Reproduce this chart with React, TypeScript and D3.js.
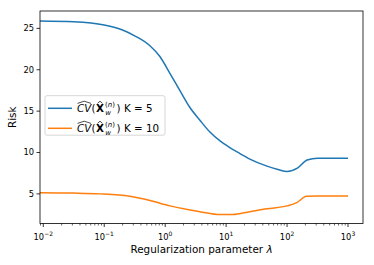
import React from "react";
import * as d3 from "d3";

const lambdaK5 = [-2.054, -1.5, -1.0, -0.7, -0.5, -0.25, -0.087, 0.075, 0.24, 0.4, 0.57, 0.73, 0.9, 1.06, 1.22, 1.39, 1.67, 1.85, 2.0, 2.17, 2.33, 2.5, 3.0];
const riskK5 = [25.9, 25.8, 25.4, 24.8, 24.1, 22.9, 21.6, 19.6, 17.5, 15.5, 13.9, 12.5, 11.4, 10.6, 9.9, 9.2, 8.35, 7.95, 7.7, 8.1, 9.1, 9.3, 9.3];

const lambdaK10 = [-2.054, -1.5, -1.07, -0.58, -0.25, 0.08, 0.41, 0.57, 0.9, 1.11, 1.39, 1.67, 2.0, 2.16, 2.32, 2.5, 3.0];
const riskK10 = [5.15, 5.1, 5.0, 4.7, 4.2, 3.55, 3.05, 2.85, 2.5, 2.5, 2.85, 3.2, 3.55, 3.95, 4.7, 4.75, 4.75];

const yTicks = [5, 10, 15, 20, 25];
const xTickExps = [-2, -1, 0, 1, 2, 3];
const legendKs = [5, 10];
const colors = ["#1f77b4", "#ff7f0e"];

const W = 374, H = 265;
const margin = { left: 40, right: 11, top: 11, bottom: 41.5 };
const font = "DejaVu Sans, sans-serif";

function LegendLabel({ x, y, k }: { x: number; y: number; k: number }) {
  const fs = 10.3;
  return (
    <g fontFamily={font} fill="#000">
      <text x={x} y={y} fontSize={fs} fontStyle="italic">CV</text>
      <path d={`M${x + 0.5},${y - 8.6} L${x + 7.2},${y - 10.8} L${x + 14},${y - 8.6}`} fill="none" stroke="#000" strokeWidth={0.7} />
      <text x={x + 14.5} y={y} fontSize={fs}>(</text>
      <text x={x + 19} y={y} fontSize={fs} fontWeight="bold">X</text>
      <path d={`M${x + 20.5},${y - 8.6} L${x + 23},${y - 10.8} L${x + 25.5},${y - 8.6}`} fill="none" stroke="#000" strokeWidth={0.7} />
      <text x={x + 28} y={y - 5} fontSize={7}>(<tspan fontStyle="italic">n</tspan>)</text>
      <text x={x + 28.3} y={y + 2.6} fontSize={7} fontStyle="italic">w</text>
      <text x={x + 39.5} y={y} fontSize={fs}>)</text>
      <text x={x + 47} y={y} fontSize={fs}>{`K = ${k}`}</text>
    </g>
  );
}

export default function App() {
  const x = d3.scaleLog().domain([Math.pow(10, -2.054), Math.pow(10, 3.246)]).range([margin.left, W - margin.right]);
  const y = d3.scaleLinear().domain([1.42, 27.1]).range([H - margin.bottom, margin.top]);

  const line = d3.line<[number, number]>()
    .x(d => x(Math.pow(10, d[0])))
    .y(d => y(d[1]))
    .curve(d3.curveMonotoneX);

  const series = [
    lambdaK5.map((l, i) => [l, riskK5[i]] as [number, number]),
    lambdaK10.map((l, i) => [l, riskK10[i]] as [number, number]),
  ];

  const minor: number[] = [];
  for (let e = -3; e <= 3; e++) {
    for (let m = 2; m <= 9; m++) {
      const v = m * Math.pow(10, e);
      const [a, b] = x.domain();
      if (v >= a && v <= b) minor.push(v);
    }
  }

  const x0 = margin.left, x1 = W - margin.right;
  const y0 = margin.top, y1 = H - margin.bottom;

  return (
    <svg width={W} height={H} style={{ position: "absolute", left: 0, top: 0, background: "#fff" }}>
      <rect x={0} y={0} width={W} height={H} fill="#fff" />
      <g>
        {series.map((s, i) => (
          <path key={i} d={line(s) || ""} fill="none" stroke={colors[i]} strokeWidth={1.5} strokeLinejoin="round" />
        ))}
      </g>

      {/* frame */}
      <rect x={x0} y={y0} width={x1 - x0} height={y1 - y0} fill="none" stroke="#000" strokeWidth={0.8} />

      {/* y ticks */}
      {yTicks.map(t => (
        <g key={t}>
          <line x1={x0 - 3.5} x2={x0} y1={y(t)} y2={y(t)} stroke="#000" strokeWidth={0.8} />
          <text x={x0 - 6} y={y(t)} dy="0.35em" textAnchor="end" fontSize={8.3} fontFamily={font}>{t}</text>
        </g>
      ))}

      {/* x ticks */}
      {minor.map((v, i) => (
        <line key={i} x1={x(v)} x2={x(v)} y1={y1} y2={y1 + 2} stroke="#000" strokeWidth={0.6} />
      ))}
      {xTickExps.map(e => {
        const px = x(Math.pow(10, e));
        return (
          <g key={e}>
            <line x1={px} x2={px} y1={y1} y2={y1 + 3.5} stroke="#000" strokeWidth={0.8} />
            <text x={px} y={y1 + 16} textAnchor="middle" fontSize={8.3} fontFamily={font}>
              10<tspan dy={-3.6} fontSize={6}>{e < 0 ? `\u2212${-e}` : `${e}`}</tspan>
            </text>
          </g>
        );
      })}

      {/* axis labels */}
      <text x={(x0 + x1) / 2} y={253} textAnchor="middle" fontSize={10.4} fontFamily={font}>
        Regularization parameter <tspan fontStyle="italic">λ</tspan>
      </text>
      <text transform={`translate(16,${(y0 + y1) / 2}) rotate(-90)`} textAnchor="middle" fontSize={10.4} fontFamily={font}>Risk</text>

      {/* legend */}
      <rect x={45} y={95.7} width={120} height={39.5} rx={2} fill="#fff" fillOpacity={0.8} stroke="#ccc" strokeWidth={0.8} />
      {legendKs.map((k, i) => {
        const ly = 108.3 + i * 20;
        return (
          <g key={k}>
            <line x1={48} x2={72} y1={ly} y2={ly} stroke={colors[i]} strokeWidth={1.5} />
            <LegendLabel x={77} y={ly + 3.7} k={k} />
          </g>
        );
      })}
    </svg>
  );
}
